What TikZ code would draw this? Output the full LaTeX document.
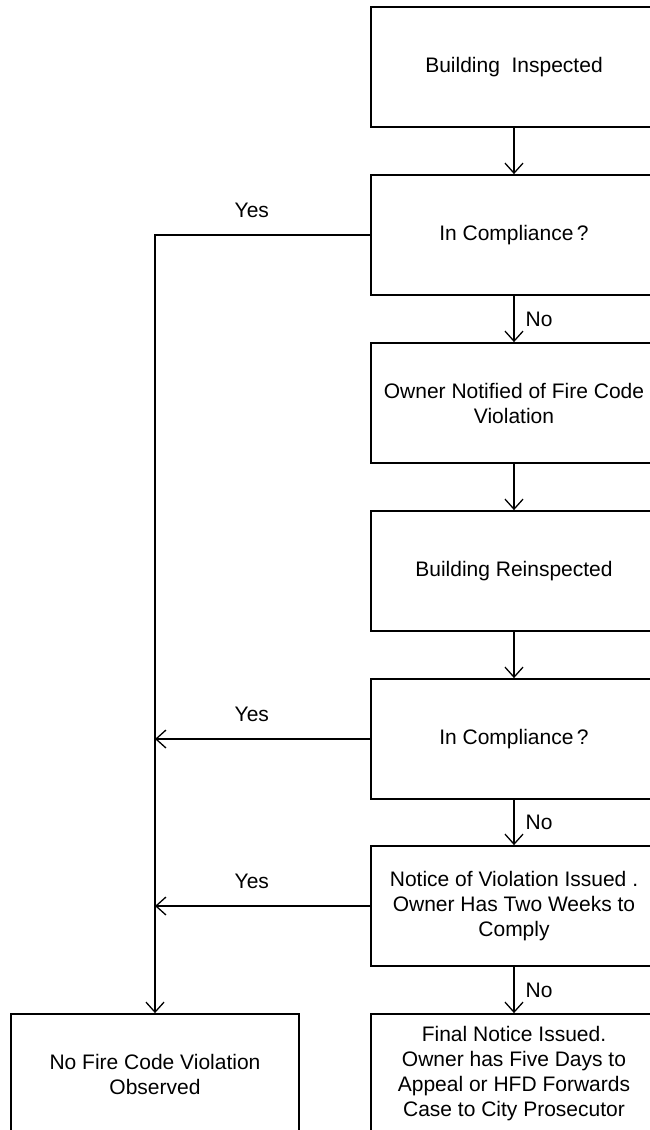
\documentclass[tikz,border=0pt]{standalone}
\usepackage{fontspec}
\setmainfont{Liberation Sans}
\usetikzlibrary{arrows.meta,positioning,calc}

\begin{document}
\begin{tikzpicture}[x=1pt, y=-1pt,
  box/.style={draw, line width=1.8pt, minimum width=286pt, minimum height=120pt,
    inner sep=0pt, align=center, font=\fontsize{21}{25}\selectfont},
  lab/.style={font=\fontsize{21}{25}\selectfont, inner sep=2pt},
  arr/.style={line width=1.3pt, -{Straight Barb[length=10pt, width=18pt]}},
]
  \useasboundingbox (0,0) rectangle (650,1130);
  \fill[white] (0,0) rectangle (650,1130);

  % Main column, one box every 168 units.
  \foreach \n/\y/\t in {b1/67/{Building~~Inspected},
                        b2/235/{In Compliance\,?},
                        b3/403/{Owner Notified of Fire Code\\ Violation},
                        b4/571/{Building Reinspected},
                        b5/739/{In Compliance\,?},
                        b6/906/{Notice of Violation Issued .\\ Owner Has Two Weeks to\\ Comply},
                        b7/1074/{Final Notice Issued.\\ Owner has Five Days to\\ Appeal or HFD Forwards\\ Case to City Prosecutor}}
    \node[box] (\n) at (514,\y) {\t};

  % Outcome on the left.
  \node[box, minimum width=288pt] (nofire) at (155,1074) {No Fire Code Violation\\ Observed};

  % Straight steps down the column.
  \foreach \a/\b in {b1/b2, b3/b4, b4/b5}
    \draw[arr] (\a) -- (\b);
  \foreach \a/\b in {b2/b3, b5/b6, b6/b7}
    \draw[arr] (\a) -- (\b) node[lab, midway, right=9pt] {No};

  % Yes branches join the line on the left.
  \draw[arr] (b2.west) -| node[lab, pos=0.275, yshift=25pt] {Yes} (nofire.north);
  \foreach \a in {b5, b6}
    \draw[arr] (\a.west) -- (\a.west -| nofire.north)
      node[lab, pos=0.55, yshift=25pt] {Yes};
\end{tikzpicture}
\end{document}
